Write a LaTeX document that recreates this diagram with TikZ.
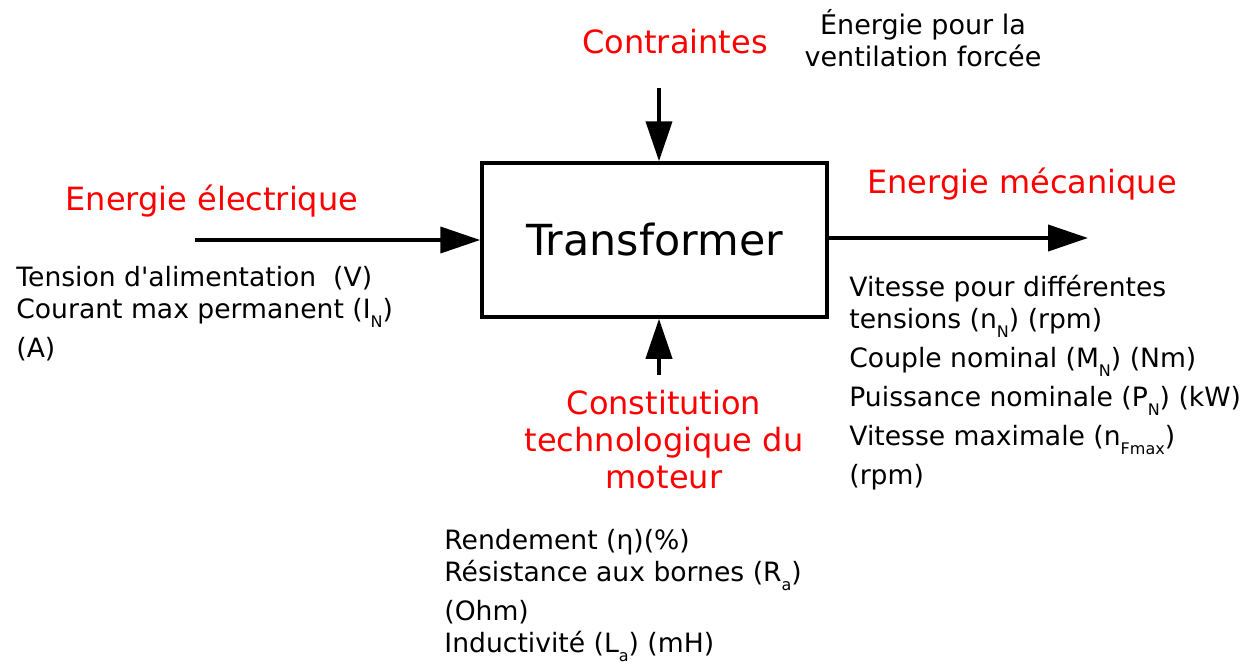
\documentclass[tikz,border=0pt]{standalone}
\usepackage{fontspec}
\setmainfont{DejaVu Sans}
\usepackage{tikz}
\usetikzlibrary{arrows.meta, positioning}

\newcommand{\lowsub}[1]{\raisebox{-4.5pt}{\fontsize{8}{8}\selectfont #1}}

\tikzset{
  flow/.style={line width=2pt, -{Triangle[length=20pt, width=13pt]}},
  redlbl/.style={text=red, font=\fontsize{16}{18.5}\selectfont, align=center, inner sep=0pt},
  blacklbl/.style={font=\fontsize{13.5}{16}\selectfont, align=center, inner sep=0pt},
  listtxt/.style={font=\fontsize{13.3}{16}\selectfont, align=left, inner sep=0pt, anchor=north west},
}

\begin{document}
\begin{tikzpicture}[x=0.5pt, y=-0.5pt]
  \useasboundingbox (0,0) rectangle (1242,664);

  % central block
  \node[draw, line width=1.75pt, minimum width=172.5pt, minimum height=77pt,
        font=\fontsize{21.4}{24}\selectfont] (box) at (654.5,240) {Transformer};

  % free ends of the flows
  \coordinate (inE) at (195,240);
  \coordinate (outM) at (1088,238);
  \coordinate (topC) at (659,88);
  \coordinate (botT) at (659,375);

  \draw[flow] (inE) -- (box.west);
  \draw[flow] (box.east |- outM) -- (outM);
  \draw[flow] (topC) -- (topC |- box.north);
  \draw[flow] (botT) -- (botT |- box.south);

  % red headings
  \node[redlbl] (contr) at (675,42) {Contraintes};
  \node[redlbl] (elec) at (212,201) {Energie électrique};
  \node[redlbl] (meca) at (1022,184) {Energie mécanique};
  \node[redlbl] (const) at (664,440) {Constitution\\technologique du\\moteur};

  \node[blacklbl] (ventil) at (923,38) {Énergie pour la\\ventilation forcée};

  % lists of quantities
  \node[listtxt] (inlist) at (16,266)
    {Tension d\textquotesingle alimentation\ \ (V)\\
     Courant max permanent (I\lowsub{N})\\[3.5pt]
     (A)};
  \node[listtxt] (outlist) at (849,275)
    {Vitesse pour différentes\\
     tensions (n\lowsub{N}) (rpm)\\[3.5pt]
     Couple nominal (M\lowsub{N}) (Nm)\\[3.5pt]
     Puissance nominale (P\lowsub{N}) (kW)\\[3.5pt]
     Vitesse maximale (n\lowsub{Fmax})\\[3.5pt]
     (rpm)};
  \node[listtxt] (techlist) at (444,529)
    {Rendement (η)(\%)\\
     Résistance aux bornes (R\lowsub{a})\\[3.5pt]
     (Ohm)\\
     Inductivité (L\lowsub{a}) (mH)};
\end{tikzpicture}
\end{document}
